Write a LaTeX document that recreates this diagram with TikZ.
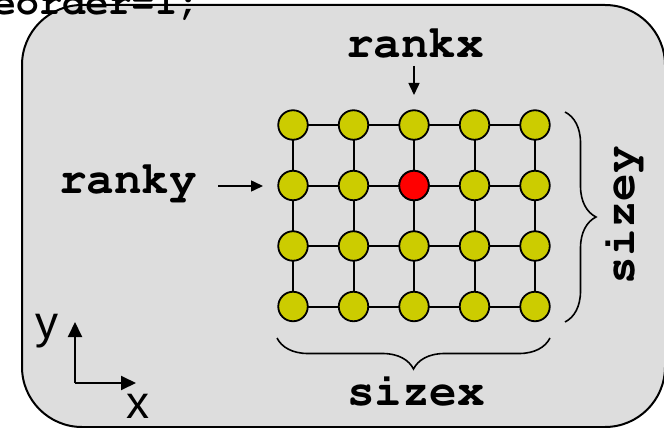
\documentclass[tikz,border=0pt]{standalone}
\usepackage[T1]{fontenc}
\usepackage{fontspec}
\newfontfamily\axfont{Liberation Sans}
\newcommand{\courb}{\fontencoding{T1}\fontfamily{pcr}\fontseries{b}\selectfont}
\usetikzlibrary{arrows.meta,decorations.pathreplacing}
\definecolor{bggrey}{HTML}{DDDDDD}
\definecolor{nodeyel}{HTML}{CCCC00}
\definecolor{nodered}{HTML}{FF0000}
\tikzset{
  proc/.style={circle,draw=black,line width=1.8pt,fill=nodeyel,inner sep=0pt,minimum size=29.5pt},
  link/.style={line width=2pt},
  lab/.style={font=\fontsize{46}{46}\courb,inner sep=0pt},
  axlab/.style={font=\fontsize{46}{46}\selectfont\axfont,inner sep=0pt},
  ptr/.style={line width=1.5pt,-{Triangle[length=12pt,width=11pt]}},
  axis/.style={line width=2pt,-{Triangle[length=15pt,width=14pt]}},
  brc/.style={line width=1.6pt,decorate,decoration={brace,amplitude=31pt}}
}
\begin{document}
\begin{tikzpicture}[x=1pt,y=-1pt]
\useasboundingbox (0,0) rectangle (664,428);
\draw[fill=bggrey,line width=2pt,rounded corners=60pt] (22,5) rectangle (665,427);
\node[inner sep=0pt,font=\fontsize{38.5}{38.5}\courb,anchor=base east] (code) at (201,15) {eorder=1;};
% grid
\foreach \i in {0,...,4}{
  \foreach \j in {0,...,3}{
    \coordinate (n-\i-\j) at (293+60.5*\i,125+60.5*\j);
  }
}
\foreach \i in {0,...,4}{
  \foreach \j/\k in {0/1,1/2,2/3}{
    \draw[link] (n-\i-\j) -- (n-\i-\k);
  }
}
\foreach \j in {0,...,3}{
  \foreach \i/\k in {0/1,1/2,2/3,3/4}{
    \draw[link] (n-\i-\j) -- (n-\k-\j);
  }
}
\foreach \i in {0,...,4}{
  \foreach \j in {0,...,3}{
    \node[proc] (p-\i-\j) at (n-\i-\j) {};
  }
}
\node[proc,fill=nodered] (red) at (n-2-1) {};
% labels
\node[lab,anchor=base] (rankx) at (415,58) {rankx};
\coordinate (rxs) at (414,66);
\coordinate (rxe) at (414,95);
\draw[ptr] (rxs) -- (rxe);
\node[lab,anchor=base] (ranky) at (128,193) {ranky};
\coordinate (rys) at (218,186);
\coordinate (rye) at (263,186);
\draw[ptr] (rys) -- (rye);
% braces
\coordinate (bx1) at (550,338);
\coordinate (bx2) at (277,338);
\draw[brc] (bx1) -- (bx2);
\node[lab,anchor=base] (sizex) at (416,405) {sizex};
\coordinate (by1) at (565,112);
\coordinate (by2) at (565,322);
\draw[brc] (by1) -- (by2);
\node[lab,anchor=base,rotate=90] (sizey) at (634,215) {sizey};
% axes
\coordinate (o) at (75,383);
\coordinate (ya) at (75,322);
\coordinate (xa) at (136,383);
\draw[axis] (o) -- (ya);
\draw[axis] (o) -- (xa);
\node[axlab,anchor=base] (ylab) at (47,338) {y};
\node[axlab,anchor=base] (xlab) at (138,418) {x};
\end{tikzpicture}
\end{document}
